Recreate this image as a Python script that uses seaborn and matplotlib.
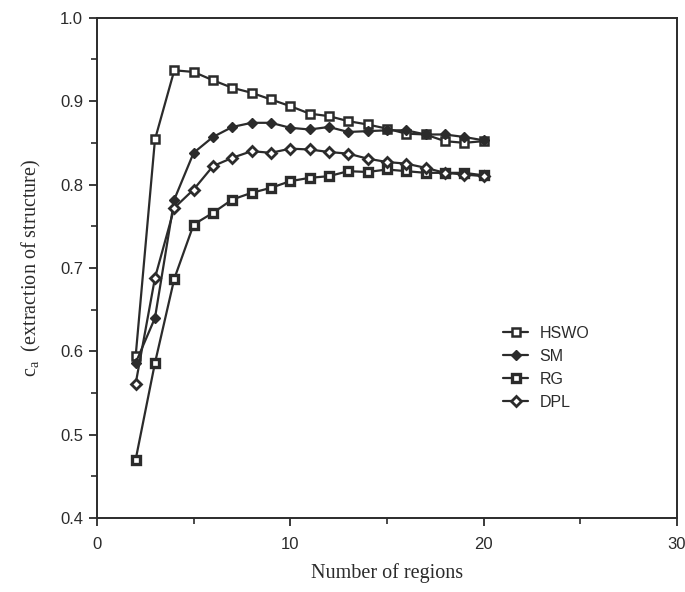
import matplotlib
matplotlib.use("Agg")
import matplotlib.pyplot as plt
import seaborn as sns
import pandas as pd
from matplotlib.ticker import MultipleLocator

# number of regions
regions = list(range(2, 21))

hswo = [0.594, 0.854, 0.937, 0.935, 0.925, 0.916, 0.910, 0.902, 0.894, 0.885,
        0.882, 0.876, 0.872, 0.867, 0.861, 0.860, 0.852, 0.850, 0.852]
sm = [0.586, 0.640, 0.782, 0.838, 0.857, 0.869, 0.874, 0.874, 0.868, 0.866,
      0.869, 0.863, 0.864, 0.865, 0.865, 0.860, 0.860, 0.857, 0.853]
rg = [0.470, 0.586, 0.687, 0.752, 0.766, 0.782, 0.790, 0.796, 0.804, 0.808,
      0.810, 0.816, 0.815, 0.818, 0.816, 0.814, 0.814, 0.814, 0.811]
dpl = [0.561, 0.688, 0.772, 0.794, 0.822, 0.832, 0.840, 0.838, 0.843, 0.842,
       0.839, 0.837, 0.831, 0.827, 0.825, 0.820, 0.814, 0.812, 0.810]

series_names = ["HSWO", "SM", "RG", "DPL"]

df = pd.DataFrame({"regions": regions, "HSWO": hswo, "SM": sm, "RG": rg, "DPL": dpl})

sns.set_style("ticks")
plt.rcParams["font.family"] = ["Liberation Sans", "DejaVu Sans"]
plt.rcParams["mathtext.fontset"] = "custom"
plt.rcParams["mathtext.rm"] = "Liberation Serif"
plt.rcParams["mathtext.it"] = "Liberation Serif"

fig = plt.figure(figsize=(6.85, 5.92), dpi=100)
ax = fig.add_axes([0.1416, 0.125, 0.8464, 0.845])

ink = "#2b2b2b"
styles = {
    "HSWO": dict(marker="s", markersize=5.5, markerfacecolor="white", markeredgewidth=1.8),
    "SM": dict(marker="D", markersize=5.0, markerfacecolor=ink, markeredgewidth=1.0),
    "RG": dict(marker="s", markersize=5.8, markerfacecolor="white", markeredgewidth=2.4),
    "DPL": dict(marker="D", markersize=5.2, markerfacecolor="white", markeredgewidth=2.0),
}

for name in series_names:
    sns.lineplot(data=df, x="regions", y=name, ax=ax, color=ink, linewidth=1.6,
                 markeredgecolor=ink, label=name, **styles[name])

ax.set_xlim(0, 30)
ax.set_ylim(0.4, 1.0)
ax.xaxis.set_major_locator(MultipleLocator(10))
ax.xaxis.set_minor_locator(MultipleLocator(5))
ax.yaxis.set_major_locator(MultipleLocator(0.1))
ax.yaxis.set_minor_locator(MultipleLocator(0.05))
ax.tick_params(axis="both", which="major", direction="out", length=6, width=1.3,
               labelsize=12, colors=ink)
ax.tick_params(axis="both", which="minor", direction="out", length=4, width=1.2, colors=ink)
ax.tick_params(axis="y", pad=4)
ax.tick_params(axis="x", pad=8)

for sp in ax.spines.values():
    sp.set_color(ink)
    sp.set_linewidth(1.4)

ax.set_xlabel("Number of regions", family="Liberation Serif", fontsize=14.5, color=ink, labelpad=8)
ax.set_ylabel(r"c$_{\mathrm{a}}$  (extraction of structure)", family="Liberation Serif",
              fontsize=14.5, color=ink, labelpad=12)

leg = ax.legend(loc="center left", bbox_to_anchor=(0.675, 0.30), frameon=False,
                fontsize=11.5, handlelength=1.6, handletextpad=0.7, labelspacing=0.5,
                labelcolor=ink)

fig.savefig("out.png", dpi=100)
plt.close()
